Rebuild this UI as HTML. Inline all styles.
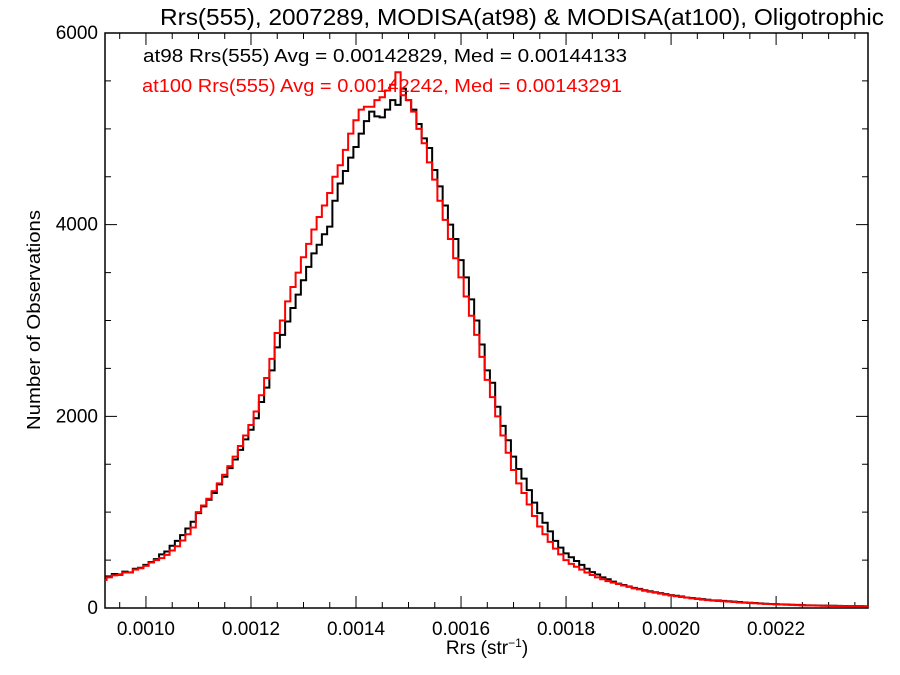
<!DOCTYPE html>
<html><head><meta charset="utf-8"><style>
body{margin:0;background:#fff}
svg{display:block;font-family:"Liberation Sans",sans-serif}
</style></head><body>
<svg id="chart" width="900" height="675" viewBox="0 0 900 675" xmlns="http://www.w3.org/2000/svg">
<text x="160" y="25" font-size="23" textLength="724" lengthAdjust="spacingAndGlyphs">Rrs(555), 2007289, MODISA(at98) &amp; MODISA(at100), Oligotrophic</text>
<g id="axes"></g>
<g id="series"></g>
<text x="143" y="62" font-size="18" fill="#000" textLength="484" lengthAdjust="spacingAndGlyphs">at98 Rrs(555) Avg = 0.00142829, Med = 0.00144133</text>
<text x="142" y="92" font-size="18" fill="#ff0000" textLength="480" lengthAdjust="spacingAndGlyphs">at100 Rrs(555) Avg = 0.00142242, Med = 0.00143291</text>
<text x="487" y="654" font-size="19" text-anchor="middle">Rrs (str<tspan font-size="12" dy="-7">−1</tspan><tspan dy="7">)</tspan></text>
<text transform="translate(40,320) rotate(-90)" font-size="18" text-anchor="middle" textLength="220" lengthAdjust="spacingAndGlyphs">Number of Observations</text>
</svg>
<script>
const binStart = 0.00092;
const binWidth = 0.00001;
const xTicks = [0.0010,0.0012,0.0014,0.0016,0.0018,0.0020,0.0022];
const xTickLabels = ["0.0010","0.0012","0.0014","0.0016","0.0018","0.0020","0.0022"];
const yTicks = [0,2000,4000,6000];
const yTickLabels = ["0","2000","4000","6000"];
const at98 = [313,330,355,350,380,372,410,420,450,
480,510,560,590,650,700,760,830,900,990,
1060,1130,1200,1290,1370,1460,1550,1650,1760,1860,
1980,2150,2300,2480,2720,
2850,2990,3130,3270,3420,
3560,3700,3790,3900,3980,
4250,4430,4560,4700,4810,
4950,5080,5180,5130,5120,5200,5300,5250,5420,5300,
5200,5050,4900,4800,4570,4400,4200,4000,3850,3630,
3450,3220,3000,2750,2480,2350,2100,1900,1750,1580,
1450,1350,1230,1100,990,890,800,700,630,570,
530,490,450,410,375,350,320,300,275,255,
240,225,210,200,185,175,165,155,145,135,
128,120,110,105,98,92,86,80,78,75,
70,66,62,58,55,52,48,45,42,40,
38,36,34,32,30,28,27,26,25,24,
23,22,21,20,20,19,18,18];
const at100 = [292,320,340,345,370,370,400,415,440,
475,500,520,555,600,645,705,770,840,1000,
1070,1140,1220,1300,1390,1480,1580,1690,1800,1910,
2050,2220,2400,2600,2870,
3000,3200,3350,3500,3660,
3800,3950,4080,4200,4330,
4500,4620,4780,4950,5090,
5200,5230,5230,5300,5330,5400,5460,5590,5350,5300,
5180,5000,4850,4650,4470,4250,4050,3850,3650,3450,
3250,3050,2850,2620,2380,2200,2000,1800,1620,1440,
1300,1200,1080,960,850,770,690,620,560,500,
460,430,400,370,345,320,300,280,265,250,
235,220,205,195,180,170,160,150,140,130,
122,115,108,100,94,88,82,77,73,70,
66,62,58,55,52,49,46,43,40,38,
36,34,32,30,28,27,26,25,24,23,
22,21,20,19,18,18,17,16];

const L=105,R=868,T=33,B=608;
const xMin=0.000922,xMax=0.002375,yMin=0,yMax=6000;
const xs=v=>L+(v-xMin)/(xMax-xMin)*(R-L);
const ys=v=>B-(v-yMin)/(yMax-yMin)*(B-T);
const NS="http://www.w3.org/2000/svg";
const axes=document.getElementById('axes');
const series=document.getElementById('series');
function mk(tag,attrs,parent){const e=document.createElementNS(NS,tag);for(const k in attrs)e.setAttribute(k,attrs[k]);parent.appendChild(e);return e;}

const frame=mk('rect',{x:L,y:T,width:R-L,height:B-T,fill:'none',stroke:'#000','stroke-width':1.5},axes);



for(let v=0.00095;v<=xMax+1e-9;v+=0.00005){
  const major=Math.abs(Math.round(v/0.0002)*0.0002-v)<1e-9;
  const len=major?12:6;const x=xs(v);
  const t=mk('path',{d:`M${x},${B}V${B-len}M${x},${T}V${T+len}`,stroke:'#000','stroke-width':1},axes);
  
  
}
xTicks.forEach((v,i)=>{
  const t=mk('text',{x:xs(v),y:B+27,'font-size':19,'text-anchor':'middle'},axes);
  t.textContent=xTickLabels[i];
  
  
});
for(let v=0;v<=yMax;v+=500){
  const major=v%2000===0;const len=major?12:6;const y=ys(v);
  const t=mk('path',{d:`M${L},${y}H${L+len}M${R},${y}H${R-len}`,stroke:'#000','stroke-width':1},axes);
  
  
}
yTicks.forEach((v,i)=>{
  const t=mk('text',{x:L-7,y:ys(v)+6,'font-size':19,'text-anchor':'end'},axes);
  t.textContent=yTickLabels[i];
  
  
});

function stepPath(vals){
  let d='';
  vals.forEach((c,i)=>{
    const x0=Math.max(L,xs(binStart+i*binWidth-binWidth/2));
    const x1=Math.min(R,xs(binStart+i*binWidth+binWidth/2));
    const y=ys(c);
    d+=(i===0?`M${x0},${y}`:`V${y}`)+`H${x1}`;
  });
  return d;
}
const p1=mk('path',{d:stepPath(at98),fill:'none',stroke:'#000','stroke-width':2},series);


const p2=mk('path',{d:stepPath(at100),fill:'none',stroke:'#ff0000','stroke-width':2},series);


</script>
</body></html>
